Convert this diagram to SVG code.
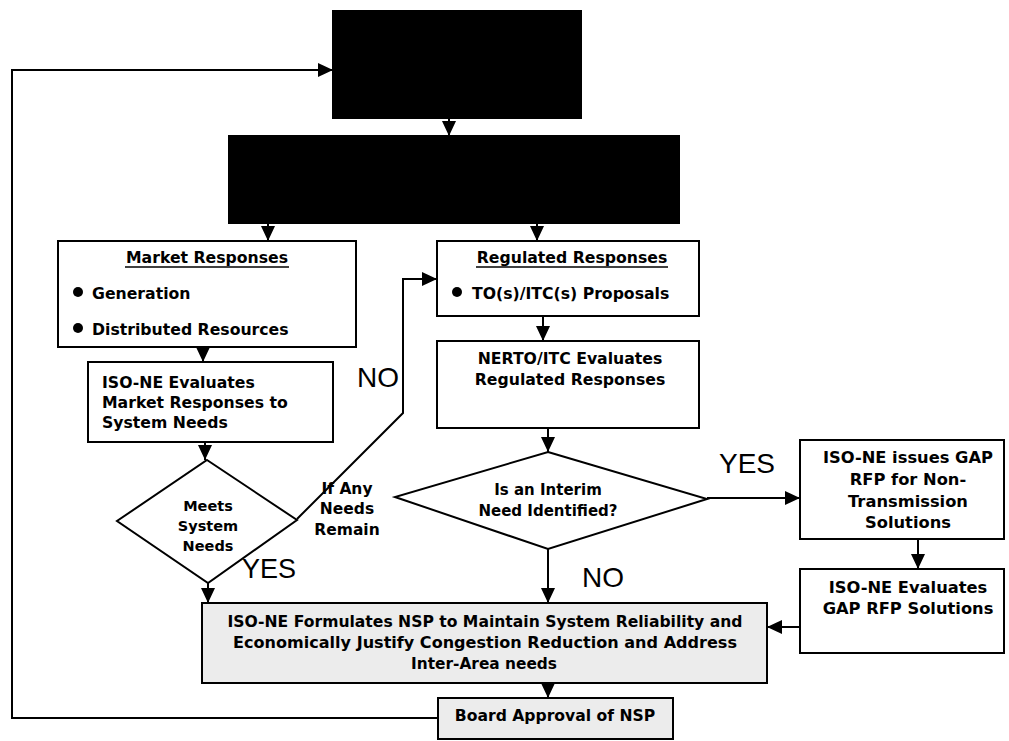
<svg xmlns="http://www.w3.org/2000/svg" width="1009" height="741" viewBox="0 0 1009 741">
<defs>
<marker id="ah" markerUnits="userSpaceOnUse" markerWidth="15" markerHeight="14" viewBox="0 0 15 14" refX="15" refY="7" orient="auto">
<path d="M0,0 L15,7 L0,14 Z" fill="#000"/>
</marker>
<style>
.box{fill:#fff;stroke:#000;stroke-width:2}
.blk{fill:#000;stroke:#000;stroke-width:2}
.gray{fill:#ececec;stroke:#000;stroke-width:2}
.con{fill:none;stroke:#000;stroke-width:2;marker-end:url(#ah)}
.t{font-family:"DejaVu Sans",sans-serif;font-weight:bold;font-size:15.7px;fill:#000}
.c{text-anchor:middle}
.d{font-size:14.5px}
.s{font-size:15px}
.big{font-family:"Liberation Sans",Arial,sans-serif;font-size:28px;fill:#000}
.ul{stroke:#000;stroke-width:1.6}
</style>
</defs>

<g id="connectors">
<path class="con" d="M438,718 H12 V70 H333"/>
<path class="con" d="M449,118 V136"/>
<path class="con" d="M268,223 V241"/>
<path class="con" d="M537,223 V241"/>
<path class="con" d="M203,347 V362"/>
<path class="con" d="M205,442 V460"/>
<path class="con" d="M208,583 V603"/>
<path class="con" d="M297,519 L403,413 V279 H437"/>
<path class="con" d="M543,316 V341"/>
<path class="con" d="M548,428 V452"/>
<path class="con" d="M707,498 H800"/>
<path class="con" d="M548,549 V603"/>
<path class="con" d="M918,539 V569"/>
<path class="con" d="M800,627 H767"/>
<path class="con" d="M548,683 V698"/>
</g>

<g id="top-box">
<rect class="blk" x="333" y="11" width="248" height="107"/>
</g>

<g id="second-box">
<rect class="blk" x="229" y="136" width="450" height="87"/>
</g>

<g id="market-responses">
<rect class="box" x="58" y="241" width="298" height="106"/>
<text class="t c" x="207" y="263">Market Responses</text>
<line class="ul" x1="125" y1="267" x2="289" y2="267"/>
<circle cx="78" cy="292" r="5"/>
<text class="t" x="92" y="299">Generation</text>
<circle cx="78" cy="328" r="5"/>
<text class="t" x="92" y="335">Distributed Resources</text>
</g>

<g id="iso-evaluates-market">
<rect class="box" x="88" y="362" width="245" height="80"/>
<text class="t" x="102" y="388">ISO-NE Evaluates</text>
<text class="t" x="102" y="408">Market Responses to</text>
<text class="t" x="102" y="428">System Needs</text>
</g>

<g id="meets-needs">
<path class="box" d="M207,460 L297,520 L208,583 L117,521 Z"/>
<text class="t c d" x="208" y="511">Meets</text>
<text class="t c d" x="208" y="531">System</text>
<text class="t c d" x="208" y="551">Needs</text>
</g>

<g id="regulated-responses">
<rect class="box" x="437" y="241" width="262" height="75"/>
<text class="t c" x="572" y="263">Regulated Responses</text>
<line class="ul" x1="476" y1="267" x2="668" y2="267"/>
<circle cx="457" cy="292" r="5"/>
<text class="t" x="472" y="299">TO(s)/ITC(s) Proposals</text>
</g>

<g id="nerto-evaluates">
<rect class="box" x="437" y="341" width="262" height="87"/>
<text class="t c" x="570" y="364">NERTO/ITC Evaluates</text>
<text class="t c" x="570" y="385">Regulated Responses</text>
</g>

<g id="interim-need">
<path class="box" d="M548,452 L707,499 L548,549 L395,497 Z"/>
<text class="t c" x="548" y="495" style="font-size:15px">Is an Interim</text>
<text class="t c" x="548" y="516" style="font-size:15px">Need Identified?</text>
</g>

<g id="gap-issues">
<rect class="box" x="800" y="440" width="204" height="99"/>
<text class="t c" x="908" y="463" style="font-size:16.3px">ISO-NE issues GAP</text>
<text class="t c" x="908" y="485" style="font-size:16.3px">RFP for Non-</text>
<text class="t c" x="908" y="507" style="font-size:16.3px">Transmission</text>
<text class="t c" x="908" y="528" style="font-size:16.3px">Solutions</text>
</g>

<g id="gap-evaluates">
<rect class="box" x="800" y="569" width="204" height="84"/>
<text class="t c" x="908" y="593" style="font-size:16.3px">ISO-NE Evaluates</text>
<text class="t c" x="908" y="614" style="font-size:16.3px">GAP RFP Solutions</text>
</g>

<g id="nsp">
<rect class="gray" x="202" y="603" width="565" height="80"/>
<text class="t c s" x="485" y="627" textLength="515" lengthAdjust="spacingAndGlyphs">ISO-NE Formulates NSP to Maintain System Reliability and</text>
<text class="t c s" x="485" y="648" textLength="504" lengthAdjust="spacingAndGlyphs">Economically Justify Congestion Reduction and Address</text>
<text class="t c s" x="484" y="669" textLength="146" lengthAdjust="spacingAndGlyphs">Inter-Area needs</text>
</g>

<g id="board-approval">
<rect class="gray" x="438" y="698" width="235" height="41"/>
<text class="t c" x="555" y="721" style="font-size:15.6px">Board Approval of NSP</text>
</g>

<g id="labels">
<text class="big" x="357" y="387">NO</text>
<text class="t c" x="347" y="494" style="font-size:15.5px">If Any</text>
<text class="t c" x="347" y="514" style="font-size:15.5px">Needs</text>
<text class="t c" x="347" y="535" style="font-size:15.5px">Remain</text>
<text class="big" x="242" y="578" style="font-size:27px">YES</text>
<text class="big" x="719" y="473">YES</text>
<text class="big" x="582" y="587">NO</text>
</g>
</svg>
